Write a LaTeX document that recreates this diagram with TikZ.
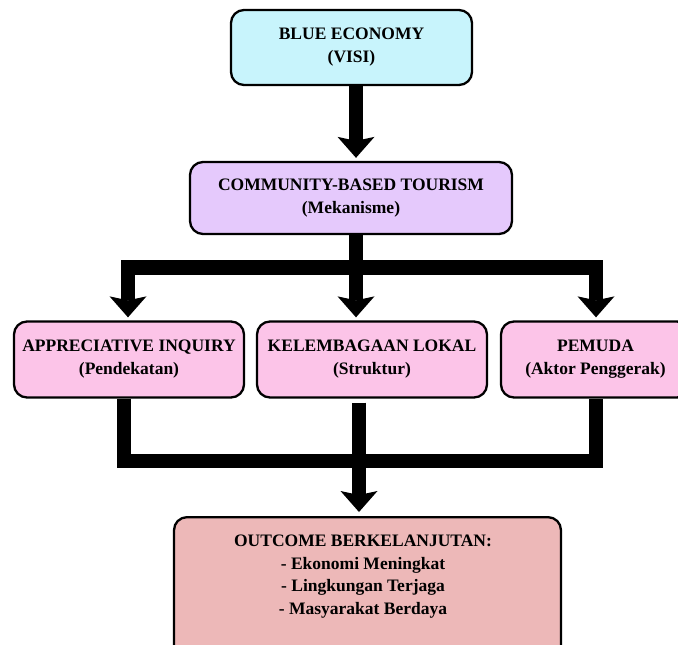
\documentclass[tikz,border=0pt]{standalone}
\usepackage{fontspec}
\setmainfont{Liberation Serif}
\usetikzlibrary{arrows.meta}
\definecolor{cvisi}{RGB}{200,244,252}
\definecolor{ccbt}{RGB}{229,201,252}
\definecolor{crow}{RGB}{252,196,232}
\definecolor{cout}{RGB}{237,184,184}
\tikzset{bigtip/.tip={Stealth[length=21pt,width=37pt,inset=4pt,line width=0pt]}}
\begin{document}
\begin{tikzpicture}[x=1pt,y=-1pt,
  box/.style={draw=black, line width=2.3pt, rounded corners=13pt, align=center,
    font=\bfseries\fontsize{17.5}{23}\selectfont, inner sep=0pt},
  txt/.style={align=center, font=\bfseries\fontsize{17.5}{22.4}\selectfont, inner sep=0pt},
  conn/.style={draw=black, line width=14.5pt, line join=miter, line cap=butt}]
\useasboundingbox (0,0) rectangle (678,645);
\node[box, fill=cvisi, minimum width=241pt, minimum height=75pt] (visi) at (351.5,47.5) {BLUE ECONOMY\\(VISI)};
\node[box, fill=ccbt, minimum width=322pt, minimum height=72pt] (cbt) at (351,198) {COMMUNITY-BASED TOURISM\\(Mekanisme)};
\node[box, fill=crow, minimum width=230pt, minimum height=76pt] (ai) at (129,359.5) {APPRECIATIVE INQUIRY\\(Pendekatan)};
\node[box, fill=crow, minimum width=230pt, minimum height=76pt] (kl) at (372,359.5) {KELEMBAGAAN LOKAL\\(Struktur)};
\node[box, fill=crow, minimum width=189pt, minimum height=76pt] (pm) at (595.5,359.5) {PEMUDA\\(Aktor Penggerak)};
\node[box, fill=cout, minimum width=387pt, minimum height=150pt, anchor=north] (out) at (367.5,516) {};
\node[txt] (outtxt) at (363,576.5) {OUTCOME BERKELANJUTAN:\\- Ekonomi Meningkat\\- Lingkungan Terjaga\\- Masyarakat Berdaya};
\coordinate (xa) at (128,0);
\coordinate (xb) at (356,0);
\coordinate (xc) at (596,0);
\coordinate (xd) at (124,0);
\coordinate (xe) at (359,0);
\coordinate (ja) at (356,267.5);
\coordinate (jb) at (359,461);
\draw[conn, -{bigtip}, shorten >=3pt] (visi.south -| xb) -- (cbt.north -| xb);
\draw[conn] (cbt.south -| xb) -- (ja);
\draw[conn, {bigtip}-{bigtip}, shorten <=3pt, shorten >=3pt] (ai.north -| xa) |- (ja) -| (pm.north -| xc);
\draw[conn, -{bigtip}, shorten >=3pt] (ja) -- (kl.north -| xb);
\draw[conn] (ai.south -| xd) |- (jb) -| (pm.south -| xc);
\draw[conn, -{bigtip}, shorten <=4pt, shorten >=4pt] (kl.south -| xe) -- (out.north -| xe);
\end{tikzpicture}
\end{document}
